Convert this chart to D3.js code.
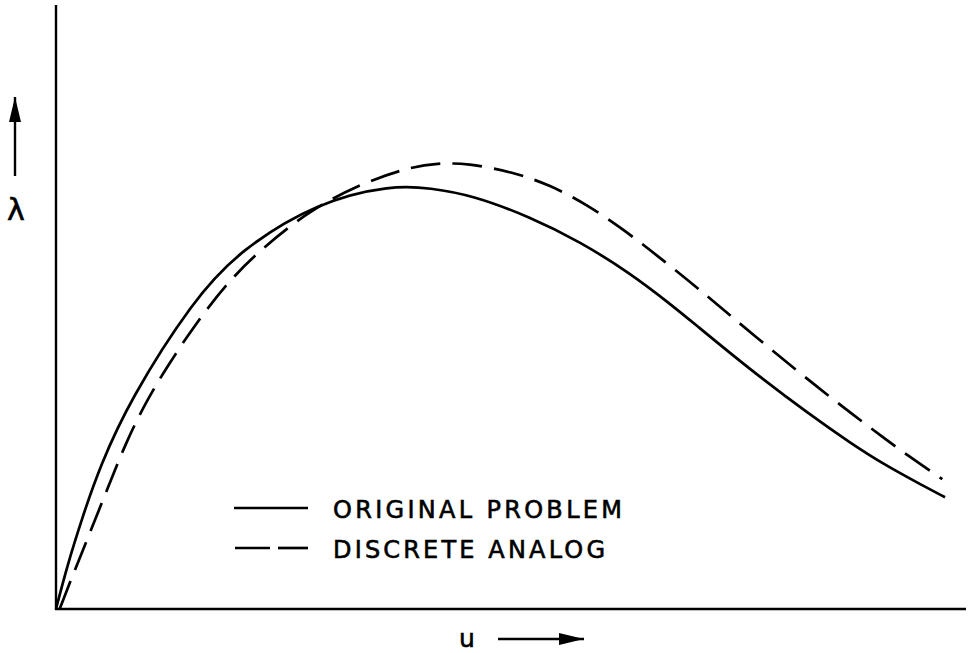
<!DOCTYPE html>
<meta charset="utf-8">
<head>
    <title>Original problem vs discrete analog</title>
    <script src="https://d3js.org/d3.v7.min.js"></script>
</head>

<style>
body { margin: 0; background: #fff; }
.curve { fill: none; stroke: #000; stroke-width: 2.7; stroke-linejoin: round; }
.dashed { stroke-dasharray: 30, 12; }
.axis-line { stroke: #000; stroke-width: 2.4; }
.label { font-family: "DejaVu Sans", sans-serif; fill: #000; stroke: #000; stroke-width: 0.6; }
</style>

<body>

<svg></svg>

<script>

// curves (u, lambda) in arbitrary units 0..10
let uOriginal = [0, 0.12, 0.29, 0.48, 0.81, 1.51, 2.02, 2.87, 3.70, 4.11, 4.58, 5.21, 5.76, 6.31, 6.75, 6.97, 7.63, 8.29, 8.73, 9.09, 9.53, 9.77];
let lamOriginal = [0, 0.70, 1.52, 2.35, 3.46, 5.12, 5.94, 6.74, 7.02, 6.97, 6.85, 6.49, 6.08, 5.56, 5.05, 4.78, 3.96, 3.21, 2.75, 2.40, 2.04, 1.85];

let uDiscrete = [0.04, 0.15, 0.34, 0.56, 0.78, 1.00, 1.22, 1.51, 1.88, 2.24, 2.76, 3.31, 3.89, 4.19, 4.52, 5.01, 5.43, 5.84, 6.23, 6.60, 7.04, 7.66, 8.36, 8.73, 9.08, 9.38, 9.74];
let lamDiscrete = [0, 0.43, 1.14, 1.97, 2.80, 3.46, 4.01, 4.67, 5.40, 5.94, 6.57, 7.02, 7.32, 7.38, 7.38, 7.24, 7.02, 6.69, 6.29, 5.86, 5.33, 4.54, 3.68, 3.25, 2.85, 2.52, 2.15];

let legendLabels = ["ORIGINAL PROBLEM", "DISCRETE ANALOG"];

let W = 969, H = 653;

let svg = d3.select("svg")
    .attr("width", W)
    .attr("height", H);

// scales
let x = d3.scaleLinear().domain([0, 10]).range([56, 966]);
let y = d3.scaleLinear().domain([0, 10]).range([609, 5]);

// arrow marker
svg.append("defs").append("marker")
    .attr("id", "head")
    .attr("viewBox", "0 0 10 10")
    .attr("preserveAspectRatio", "none")
    .attr("refX", 10).attr("refY", 5)
    .attr("markerWidth", 25).attr("markerHeight", 12)
    .attr("markerUnits", "userSpaceOnUse")
    .attr("orient", "auto")
  .append("path")
    .attr("d", "M0,0 L10,5 L0,10 Z")
    .attr("fill", "#000");

// axes (plain lines, no ticks)
svg.append("line").attr("class", "axis-line")
    .attr("x1", x(0)).attr("y1", y(0) + 1)
    .attr("x2", x(0)).attr("y2", y(10));
svg.append("line").attr("class", "axis-line")
    .attr("x1", x(0) - 1).attr("y1", y(0))
    .attr("x2", x(10)).attr("y2", y(0));

let line = d3.line()
    .x(d => x(d[0]))
    .y(d => y(d[1]))
    .curve(d3.curveBasis);

svg.append("path")
    .datum(d3.zip(uOriginal, lamOriginal))
    .attr("class", "curve")
    .attr("d", line);

svg.append("path")
    .datum(d3.zip(uDiscrete, lamDiscrete))
    .attr("class", "curve dashed")
    .attr("d", line);

// legend
let legend = svg.append("g");
legend.append("line").attr("class", "curve")
    .attr("x1", 234).attr("x2", 308).attr("y1", 508).attr("y2", 508);
legend.append("line").attr("class", "curve")
    .attr("x1", 235).attr("x2", 270).attr("y1", 548).attr("y2", 548);
legend.append("line").attr("class", "curve")
    .attr("x1", 278).attr("x2", 308).attr("y1", 548).attr("y2", 548);

legend.selectAll("text.leg")
    .data(legendLabels)
    .enter().append("text")
    .attr("class", "label leg")
    .attr("x", 333)
    .attr("y", (d, i) => 518 + i * 40)
    .attr("font-size", 24)
    .attr("textLength", (d, i) => i === 0 ? 289 : 272)
    .attr("lengthAdjust", "spacing")
    .text(d => d);

// axis labels with arrows
svg.append("line")
    .attr("x1", 15).attr("y1", 176).attr("x2", 15).attr("y2", 97)
    .attr("stroke", "#000").attr("stroke-width", 2.4)
    .attr("marker-end", "url(#head)");
svg.append("text").attr("class", "label")
    .attr("x", 16).attr("y", 220)
    .attr("text-anchor", "middle")
    .attr("font-size", 30)
    .text("λ");

svg.append("text").attr("class", "label")
    .attr("x", 467).attr("y", 647)
    .attr("text-anchor", "middle")
    .attr("font-size", 25)
    .text("u");
svg.append("line")
    .attr("x1", 498).attr("y1", 639).attr("x2", 584).attr("y2", 639)
    .attr("stroke", "#000").attr("stroke-width", 2.4)
    .attr("marker-end", "url(#head)");

</script>

</body>
